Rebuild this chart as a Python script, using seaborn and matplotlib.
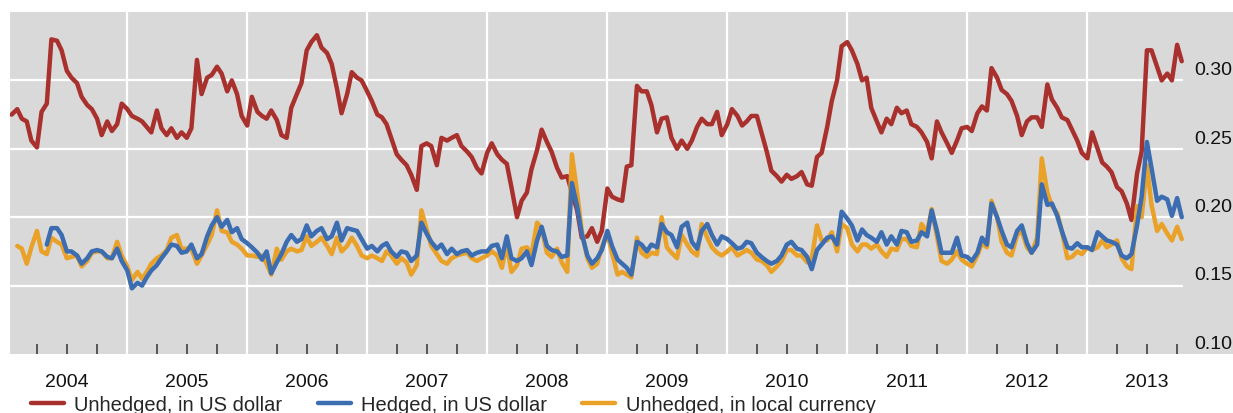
import numpy as np
import pandas as pd
import seaborn as sns
import matplotlib.pyplot as plt
import matplotlib.dates as mdates
import matplotlib.transforms as mtransforms

# semi-monthly observations, mid-Jan 2004 to mid-Oct 2013
dates = pd.date_range("2004-01-15", "2013-10-15", freq="SMS")
nan = np.nan

# Unhedged, in US dollar
unhedged_usd = (
    [.275, .279, .272, .270, .256, .251, .277, .283, .330, .329, .322, .307,
     .302, .298, .288, .282, .279, .272, .260, .270, .263, .268, .283]                # 2004
    + [.279, .274, .272, .270, .266, .262, .278, .265, .260, .265, .258, .262,
       .258, .265, .315, .290, .302, .304, .310, .305, .292, .300, .290, .274]        # 2005
    + [.267, .288, .277, .274, .272, .278, .271, .260, .258, .280, .290, .298,
       .322, .328, .333, .324, .320, .312, .294, .276, .290, .306, .302, .300]        # 2006
    + [.292, .285, .275, .273, .268, .258, .246, .242, .238, .231, .220, .252,
       .254, .252, .238, .258, .256, .258, .260, .252, .248, .244, .236, .232]        # 2007
    + [.247, .254, .246, .242, .239, .222, .200, .212, .218, .235, .249, .264,
       .255, .248, .236, .229, .230, .218, .205, .185, .186, .192, .182, .190]        # 2008
    + [.221, .215, .213, .212, .237, .238, .296, .292, .292, .282, .262, .272,
       .273, .258, .250, .256, .250, .256, .266, .272, .268, .268, .277, .260]        # 2009
    + [.268, .279, .274, .267, .270, .274, .274, .262, .248, .234, .230, .226,
       .231, .228, .230, .233, .224, .223, .244, .247, .266, .285, .300, .325]        # 2010
    + [.328, .322, .312, .300, .302, .280, .270, .262, .272, .268, .280, .276,
       .278, .268, .266, .262, .255, .243, .270, .262, .254, .247, .256, .265]        # 2011
    + [.266, .263, .276, .281, .278, .309, .302, .293, .290, .285, .274, .260,
       .270, .273, .273, .266, .297, .286, .280, .273, .271, .264, .256, .247]        # 2012
    + [.243, .262, .250, .240, .237, .233, .222, .219, .210, .198, .232, .248,
       .322, .322, .310, .300, .305, .300, .326, .314]                                # 2013
)

# Hedged, in US dollar
hedged_usd = (
    [nan, nan, nan, nan, nan, nan, nan, .180, .192, .192, .187, .175,
     .175, .172, .166, .170, .175, .176, .175, .171, .170, .177, .168]
    + [.161, .148, .152, .150, .156, .161, .165, .170, .175, .180, .179, .174,
       .175, .180, .170, .173, .186, .194, .200, .193, .198, .189, .192, .184]
    + [.181, .178, .174, .169, .175, .159, .167, .173, .182, .187, .182, .184,
       .194, .186, .190, .192, .184, .186, .196, .183, .192, .191, .190, .184]
    + [.177, .179, .175, .179, .181, .175, .171, .175, .174, .168, .172, .196,
       .188, .182, .177, .180, .173, .177, .173, .175, .176, .172, .174, .175]
    + [.175, .179, .180, .170, .186, .170, .168, .170, .175, .165, .183, .193,
       .179, .176, .175, .171, .172, .225, .208, .188, .172, .166, .170, .176]
    + [.190, .179, .169, .166, .163, .158, .182, .180, .175, .180, .178, .195,
       .189, .187, .178, .193, .196, .182, .177, .190, .195, .187, .180, .186]
    + [.184, .181, .177, .178, .182, .181, .174, .171, .168, .166, .168, .172,
       .180, .182, .177, .176, .171, .162, .176, .180, .185, .186, .180, .204]
    + [.199, .194, .183, .191, .187, .185, .182, .189, .180, .186, .180, .190,
       .189, .182, .183, .189, .186, .205, .190, .174, .174, .174, .185, .172]
    + [.171, .168, .174, .185, .180, .210, .200, .190, .180, .178, .190, .194,
       .181, .174, .180, .224, .209, .210, .201, .190, .178, .177, .181, .178]
    + [.178, .176, .189, .186, .183, .182, .180, .172, .170, .173, .194, .215,
       .255, .236, .212, .215, .213, .201, .214, .200]
)

# Unhedged, in local currency
unhedged_local = (
    [nan, .179, .177, .166, .178, .190, .175, .173, .185, .182, .180, .170,
     .171, .172, .164, .168, .174, .175, .175, .170, .170, .182, .172]
    + [.164, .154, .160, .155, .160, .166, .170, .172, .176, .185, .187, .177,
       .177, .177, .166, .172, .180, .187, .205, .190, .189, .182, .180, .177]
    + [.172, .172, .171, .172, .166, .158, .177, .169, .175, .177, .175, .176,
       .186, .179, .182, .185, .179, .173, .185, .175, .179, .185, .179, .172]
    + [.170, .172, .170, .168, .175, .172, .166, .170, .167, .158, .165, .205,
       .191, .179, .173, .168, .166, .170, .172, .173, .174, .170, .168, .170]
    + [.172, .175, .172, .163, .180, .160, .165, .177, .178, .173, .196, .192,
       .174, .171, .177, .167, .160, .246, .218, .190, .170, .163, .166, .178]
    + [.188, .174, .158, .160, .158, .156, .185, .174, .171, .174, .173, .200,
       .178, .174, .170, .187, .180, .175, .172, .195, .185, .178, .174, .172]
    + [.175, .178, .172, .174, .176, .174, .169, .168, .165, .160, .164, .168,
       .176, .176, .172, .172, .167, .170, .194, .183, .183, .189, .175, .195]
    + [.192, .180, .175, .180, .180, .177, .180, .175, .171, .177, .176, .184,
       .184, .179, .178, .195, .189, .206, .186, .168, .166, .169, .175, .169]
    + [.166, .164, .172, .181, .178, .212, .200, .182, .174, .172, .187, .190,
       .178, .174, .185, .243, .218, .208, .203, .190, .170, .171, .175, .173]
    + [.178, .176, .178, .183, .178, .180, .183, .170, .164, .162, .208, .200,
       .238, .209, .190, .195, .188, .183, .193, .184]
)

assert len(unhedged_usd) == len(hedged_usd) == len(unhedged_local) == len(dates)

series_labels = ["Unhedged, in US dollar", "Hedged, in US dollar", "Unhedged, in local currency"]
series_colors = ["#a9312d", "#3b6db0", "#eaa128"]
y_ticks = [0.10, 0.15, 0.20, 0.25, 0.30]
years = list(range(2004, 2014))

sns.set_style("white", {"axes.facecolor": "#d9d9d9", "axes.edgecolor": "none"})
plt.rcParams["font.family"] = ["Liberation Sans", "DejaVu Sans"]

fig = plt.figure(figsize=(12.33, 4.14), dpi=100)
ax = fig.add_axes([10 / 1233, 59 / 414, 1223 / 1233, 342 / 414])

df = pd.DataFrame({"date": dates, "red": unhedged_usd,
                   "blue": hedged_usd, "orange": unhedged_local})

lw = 3.2
sns.lineplot(data=df, x="date", y="red", color=series_colors[0], lw=lw,
             label=series_labels[0], ax=ax, zorder=3)
sns.lineplot(data=df, x="date", y="orange", color=series_colors[2], lw=lw,
             label=series_labels[2], ax=ax, zorder=3)
sns.lineplot(data=df, x="date", y="blue", color=series_colors[1], lw=lw,
             label=series_labels[1], ax=ax, zorder=4)

x_left = pd.Timestamp("2004-01-10")
x_right = pd.Timestamp("2014-03-20")
ax.set_xlim(x_left, x_right)
ax.set_ylim(0.10, 0.35)

# white grid: horizontal lines stop at the end of the data
ax.hlines(y_ticks[1:], x_left, dates[-1] + pd.Timedelta(days=5),
          colors="white", lw=1.6, zorder=1)
year_starts = [pd.Timestamp(f"{y}-01-01") for y in years[1:]]
ax.vlines(year_starts, 0.10, 0.35, colors="white", lw=1.6, zorder=1)

# ticks inside, at year starts (long) and quarters (short)
quarters = [pd.Timestamp(f"{y}-{m:02d}-01") for y in years for m in (4, 7, 10)]
ax.set_xticks(mdates.date2num(year_starts))
ax.set_xticks(mdates.date2num(quarters), minor=True)
ax.tick_params(axis="x", which="major", direction="in", length=15, width=1.1,
               color="#333333", labelbottom=False, bottom=True)
ax.tick_params(axis="x", which="minor", direction="in", length=7.2, width=1.1,
               color="#333333", bottom=True)
ax.set_yticks([])
ax.set_xlabel("")
ax.set_ylabel("")
for s in ax.spines.values():
    s.set_visible(False)

for y in years:
    ax.text(pd.Timestamp(f"{y}-07-01"), -0.079, str(y), transform=ax.get_xaxis_transform(),
            ha="center", va="center", fontsize=14, color="#111111")

ytrans = mtransforms.blended_transform_factory(ax.transAxes, ax.transData)
for v in y_ticks:
    ax.text(0.999, v + 0.0078, f"{v:.2f}", transform=ytrans,
            ha="right", va="center", fontsize=14, color="#111111")

handles, labels = ax.get_legend_handles_labels()
order = [labels.index(l) for l in series_labels]
ax.legend([handles[i] for i in order], series_labels, loc="center left",
          bbox_to_anchor=(31 / 1233, 8 / 414), bbox_transform=fig.transFigure,
          ncol=3, frameon=False, fontsize=14.5, handlelength=1.65, handletextpad=0.5,
          columnspacing=1.75, borderpad=0, borderaxespad=0)

fig.savefig("out.png", dpi=100)
